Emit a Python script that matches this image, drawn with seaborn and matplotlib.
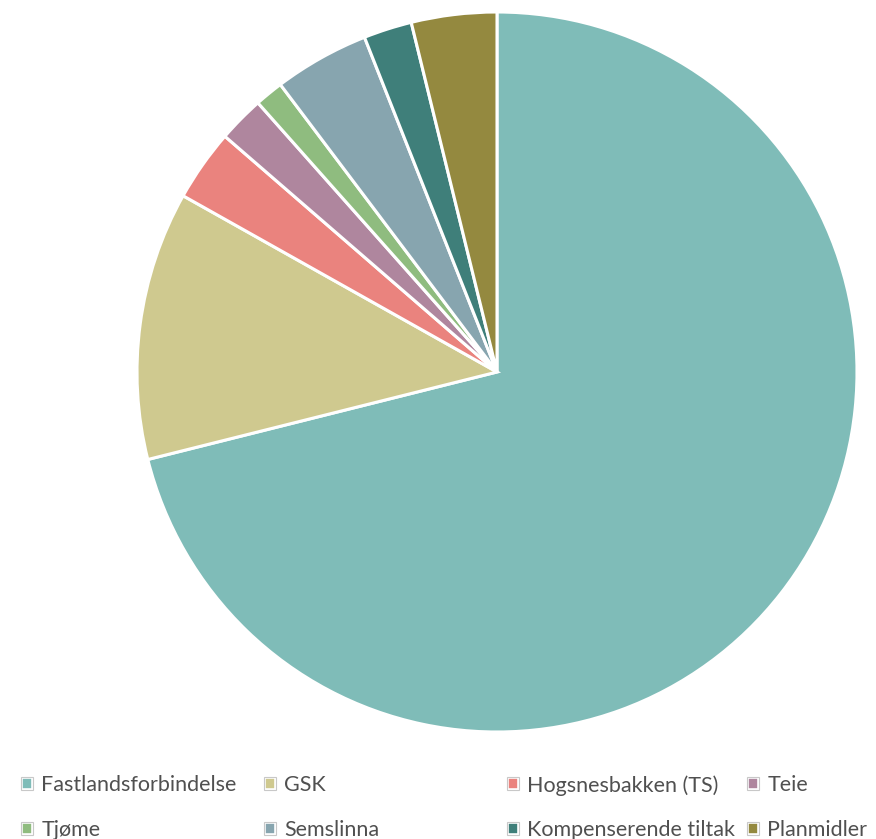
import matplotlib
matplotlib.use("Agg")
import matplotlib.pyplot as plt
from matplotlib.patches import Patch
from matplotlib.legend_handler import HandlerTuple
import seaborn as sns

categories = ["Fastlandsforbindelse", "GSK", "Hogsnesbakken (TS)", "Teie",
              "Tjøme", "Semslinna", "Kompenserende tiltak", "Planmidler"]
values = [71.1, 12.05, 3.22, 2.08, 1.28, 4.28, 2.17, 3.83]
colors = ["#7FBCB8", "#CFC98F", "#EA837E", "#AF869E",
          "#8FBC7F", "#87A5AF", "#3F7F7A", "#94893F"]

sns.set_theme(style="white")
plt.rcParams['font.family'] = ['Lato', 'DejaVu Sans']
palette = sns.color_palette(colors)

fig = plt.figure(figsize=(8.76, 8.39), dpi=100)
ax = fig.add_axes([137/876, 1 - 732/839, 720/876, 720/839])
ax.pie(values, colors=palette, startangle=90, counterclock=False,
       wedgeprops=dict(edgecolor="white", linewidth=2.2))
ax.set_xlim(-1.0, 1.0)
ax.set_ylim(-1.0, 1.0)
ax.set_aspect("equal")
ax.axis("off")

col_x = [21, 264, 507, 747]
for c in range(4):
    idx = [c, c + 4]
    handles = [(Patch(facecolor=palette[i], edgecolor="white", linewidth=2.6),
                Patch(facecolor="none", edgecolor="#c8c8c8", linewidth=0.8)) for i in idx]
    labels = [categories[i] for i in idx]
    fig.legend(handles, labels, loc="upper left",
               handler_map={tuple: HandlerTuple(ndivide=1, pad=0)},
               bbox_to_anchor=(col_x[c] / 876, 1 - 775 / 839),
               frameon=False, borderpad=0, borderaxespad=0,
               handlelength=0.55, handleheight=0.55, handletextpad=0.4,
               labelspacing=1.15, fontsize=15.5, labelcolor="#505050")

fig.savefig("out.png", dpi=100)
